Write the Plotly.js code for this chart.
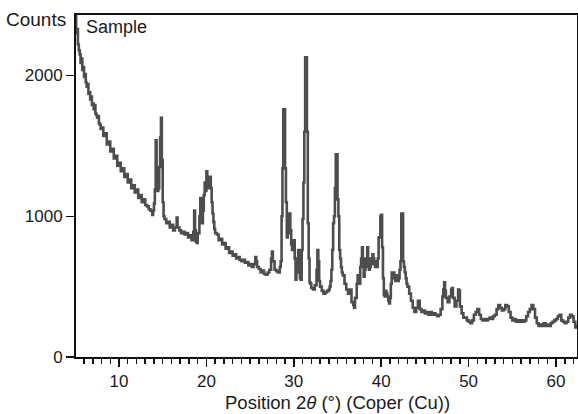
<!DOCTYPE html>
<html>
<head>
<meta charset="utf-8">
<script src="https://cdn.plot.ly/plotly-3.0.1.min.js"></script>
<style>
  html, body { margin: 0; padding: 0; background: #ffffff; }
  #chart { width: 578px; height: 414px; }
</style>
</head>
<body>
<div id="chart"></div>
<script>
// Diffraction angle 2θ (degrees) and intensity (counts)
const twoTheta = [
  5.0, 5.1, 5.2, 5.3, 5.4, 5.5, 5.6, 5.7, 5.8, 5.9,
  6.0, 6.1, 6.2, 6.3, 6.4, 6.5, 6.6, 6.7, 6.8, 6.9,
  7.0, 7.1, 7.2, 7.3, 7.4, 7.5, 7.6, 7.7, 7.8, 7.9,
  8.0, 8.2, 8.4, 8.6, 8.8, 9.0, 9.2, 9.4, 9.6, 9.8,
  10.0, 10.2, 10.4, 10.6, 10.8, 11.0, 11.2, 11.4, 11.6, 11.8,
  12.0, 12.2, 12.4, 12.6, 12.8, 13.0, 13.2, 13.4, 13.6, 13.8,
  13.9, 14.0, 14.1, 14.2, 14.3, 14.4, 14.5, 14.6, 14.7, 14.8,
  14.9, 15.0, 15.1, 15.2, 15.4, 15.6, 15.8, 16.0, 16.2, 16.4,
  16.6, 16.7, 16.9, 17.1, 17.3, 17.5, 17.7, 17.9, 18.1, 18.3,
  18.5, 18.6, 18.7, 18.8, 18.9, 19.0, 19.2, 19.3, 19.4, 19.5,
  19.6, 19.7, 19.8, 19.9, 20.0, 20.1, 20.2, 20.3, 20.4, 20.5,
  20.6, 20.7, 20.8, 20.9, 21.0, 21.2, 21.4, 21.6, 21.8, 22.0,
  22.2, 22.4, 22.6, 22.8, 23.0, 23.2, 23.4, 23.6, 23.8, 24.0,
  24.2, 24.4, 24.6, 24.8, 25.0, 25.2, 25.4, 25.6, 25.7, 25.8,
  26.0, 26.2, 26.4, 26.6, 26.8, 27.0, 27.2, 27.4, 27.5, 27.6,
  27.8, 28.0, 28.2, 28.4, 28.5, 28.6, 28.7, 28.8, 28.9, 29.0,
  29.1, 29.2, 29.3, 29.4, 29.5, 29.6, 29.7, 29.8, 29.9, 30.0,
  30.1, 30.2, 30.3, 30.4, 30.5, 30.6, 30.7, 30.8, 30.9, 31.0,
  31.1, 31.2, 31.3, 31.4, 31.5, 31.6, 31.7, 31.8, 31.9, 32.0,
  32.2, 32.4, 32.6, 32.7, 32.8, 32.9, 33.0, 33.2, 33.4, 33.6,
  33.8, 34.0, 34.1, 34.2, 34.3, 34.4, 34.5, 34.6, 34.7, 34.8,
  34.9, 35.0, 35.1, 35.2, 35.3, 35.4, 35.5, 35.6, 35.8, 36.0,
  36.2, 36.4, 36.6, 36.8, 36.9, 37.0, 37.2, 37.3, 37.5, 37.6,
  37.7, 37.8, 37.9, 38.0, 38.1, 38.2, 38.3, 38.4, 38.5, 38.6,
  38.7, 38.8, 38.9, 39.0, 39.1, 39.2, 39.3, 39.4, 39.5, 39.6,
  39.7, 39.8, 39.9, 40.0, 40.1, 40.2, 40.3, 40.4, 40.5, 40.6,
  40.7, 40.8, 40.9, 41.0, 41.1, 41.2, 41.3, 41.4, 41.5, 41.6,
  41.7, 41.8, 41.9, 42.0, 42.1, 42.2, 42.3, 42.4, 42.5, 42.6,
  42.7, 42.8, 42.9, 43.0, 43.2, 43.4, 43.6, 43.8, 44.0, 44.2,
  44.4, 44.6, 44.8, 45.0, 45.2, 45.4, 45.6, 45.8, 46.0, 46.2,
  46.4, 46.6, 46.8, 47.0, 47.1, 47.2, 47.3, 47.4, 47.6, 47.8,
  48.0, 48.1, 48.2, 48.4, 48.6, 48.8, 48.9, 49.0, 49.2, 49.4,
  49.6, 49.8, 50.0, 50.2, 50.4, 50.6, 50.8, 51.0, 51.2, 51.4,
  51.6, 51.8, 52.0, 52.2, 52.4, 52.6, 52.8, 53.0, 53.2, 53.4,
  53.6, 53.8, 54.0, 54.2, 54.4, 54.6, 54.8, 55.0, 55.2, 55.4,
  55.6, 55.8, 56.0, 56.2, 56.4, 56.6, 56.8, 57.0, 57.2, 57.4,
  57.6, 57.8, 58.0, 58.2, 58.4, 58.6, 58.8, 59.0, 59.2, 59.4,
  59.6, 59.8, 60.0, 60.2, 60.4, 60.6, 60.8, 61.0, 61.2, 61.4,
  61.6, 61.8, 62.0, 62.2, 62.4
];
const counts = [
  2420, 2300, 2330, 2220, 2180, 2150, 2090, 2120, 2040, 2060,
  1990, 2010, 1950, 1920, 1940, 1870, 1880, 1830, 1850, 1790,
  1800, 1760, 1790, 1730, 1720, 1700, 1710, 1660, 1650, 1620,
  1630, 1570, 1590, 1510, 1530, 1460, 1480, 1410, 1430, 1360,
  1380, 1320, 1340, 1280, 1300, 1240, 1260, 1200, 1220, 1170,
  1190, 1130, 1150, 1100, 1120, 1080, 1070, 1050, 1040, 1010,
  1040, 1090, 1190, 1540, 1300, 1180, 1200, 1350, 1560, 1700,
  1400, 1100, 1000, 980, 950, 960, 920, 940, 900, 920,
  990, 920, 900, 880, 890, 870, 880, 850, 865, 830,
  890, 1040, 900, 820, 810, 880, 1000, 1130, 1060, 950,
  1040, 1150, 1240, 1180, 1320, 1260, 1200, 1240, 1280, 1200,
  1100, 1020, 960, 910, 880, 870, 830, 840, 800, 810,
  770, 780, 740, 750, 720, 730, 700, 710, 690, 680,
  690, 670, 675, 650, 660, 640, 660, 710, 680, 640,
  625, 600, 615, 590, 585, 600, 620, 700, 750, 680,
  620, 610, 600, 640, 680, 1000, 1340, 1760, 1760, 1340,
  1100, 850, 880, 960, 1020, 900, 800, 760, 780, 830,
  700, 550, 600, 700, 760, 640, 560, 550, 760, 980,
  1240, 1600, 2130, 2130, 1600, 950, 700, 530, 520, 490,
  480, 510, 620, 760, 680, 540, 500, 470, 450, 460,
  470, 480, 500, 540, 620, 760, 950, 1000, 1200, 1440,
  1440, 1120, 1000, 760, 700, 640, 600, 580, 520, 480,
  450, 480, 390, 370, 350, 420, 520, 580, 520, 640,
  700, 780, 650, 570, 620, 700, 640, 780, 700, 620,
  640, 700, 660, 730, 700, 660, 640, 680, 640, 700,
  850, 850, 1000, 1010, 780, 560, 440, 430, 470, 450,
  430, 400, 380, 420, 520, 600, 560, 600, 560, 540,
  580, 560, 540, 560, 620, 680, 1020, 1020, 680, 640,
  600, 560, 520, 500, 450, 400, 350, 320, 350, 400,
  340, 320, 330, 310, 320, 300, 320, 300, 310, 300,
  290, 300, 340, 430, 480, 530, 470, 420, 390, 430,
  480, 490, 420, 360, 400, 480, 470, 360, 310, 280,
  280, 260, 250, 240, 260, 300, 320, 340, 300, 270,
  260, 270, 260, 270, 280, 270, 290, 300, 340, 370,
  350, 330, 340, 370, 360, 320, 280, 260, 270, 250,
  260, 250, 260, 250, 260, 290, 320, 340, 370, 340,
  280, 240, 220, 230, 220, 240, 220, 230, 220, 240,
  250, 260, 270, 290, 300, 260, 250, 240, 250, 280,
  300, 290, 250, 210, 230
];
const yTickVals = [0, 1000, 2000];
const xTickVals = [10, 20, 30, 40, 50, 60];

const textColor = '#1a1a1a';
const font = 'Liberation Sans, Arial, sans-serif';

const trace = {
  x: twoTheta,
  y: counts,
  type: 'scatter',
  mode: 'lines',
  line: { color: '#4d4d4d', width: 2.6, shape: 'hv' },
  hoverinfo: 'skip'
};

const layout = {
  width: 578,
  height: 414,
  margin: { l: 76, r: 1, t: 15, b: 57 },
  paper_bgcolor: '#ffffff',
  plot_bgcolor: '#ffffff',
  showlegend: false,
  font: { family: font, size: 17, color: textColor },
  xaxis: {
    range: [5.08, 62.4],
    tickvals: xTickVals,
    ticks: 'outside',
    ticklen: 8,
    tickwidth: 1.5,
    tickcolor: '#111',
    showline: true,
    linecolor: '#111',
    linewidth: 2,
    mirror: true,
    showgrid: false,
    zeroline: false,
    tickfont: { size: 17, color: textColor },
    minor: { dtick: 1, ticks: 'outside', ticklen: 5, tickwidth: 1.5, tickcolor: '#111', showgrid: false }
  },
  yaxis: {
    range: [0, 2430],
    tickvals: yTickVals,
    ticks: 'outside',
    ticklen: 8,
    tickwidth: 1.5,
    tickcolor: '#111',
    showline: true,
    linecolor: '#111',
    linewidth: 2,
    mirror: true,
    showgrid: false,
    zeroline: false,
    tickfont: { size: 17, color: textColor }
  },
  annotations: [
    {
      text: 'Counts', xref: 'paper', yref: 'paper', x: 0, y: 1,
      xanchor: 'right', yanchor: 'middle', xshift: -8, yshift: -4,
      showarrow: false, font: { size: 19, color: textColor }
    },
    {
      text: 'Sample', xref: 'paper', yref: 'paper', x: 0, y: 1,
      xanchor: 'left', yanchor: 'middle', xshift: 8, yshift: -12,
      showarrow: false, font: { size: 18, color: textColor }
    },
    {
      text: 'Position 2<i>θ</i> (°) (Coper (Cu))', xref: 'paper', yref: 'paper',
      x: 0.521, y: 0, xanchor: 'center', yanchor: 'middle', yshift: -45,
      showarrow: false, font: { size: 18.5, color: textColor }
    }
  ]
};

Plotly.newPlot('chart', [trace], layout, { staticPlot: true, displayModeBar: false });
</script>
</body>
</html>
